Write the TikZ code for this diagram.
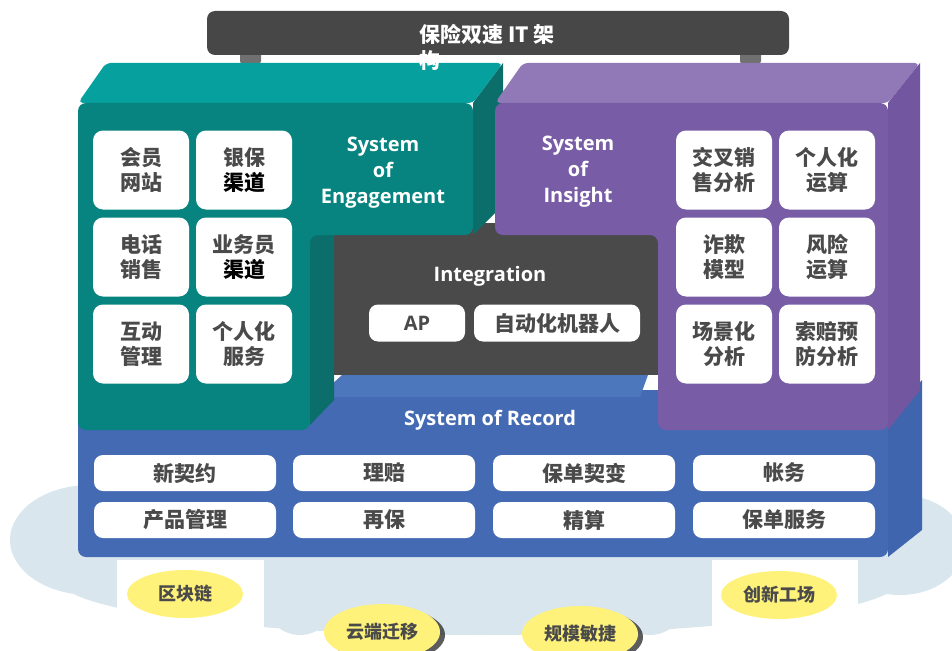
\documentclass[tikz,border=0pt]{standalone}
\usepackage{fontspec}
\setmainfont{Open Sans}
\newfontfamily\cjk{Noto Sans CJK SC}
\usetikzlibrary{shapes.geometric,shadows}

\definecolor{bargray}{HTML}{474747}
\definecolor{postgray}{HTML}{707070}
\definecolor{tealtop}{HTML}{06A09F}
\definecolor{tealfront}{HTML}{07847F}
\definecolor{tealside}{HTML}{0B6E6A}
\definecolor{purptop}{HTML}{9079B6}
\definecolor{purpfront}{HTML}{785DA6}
\definecolor{purpside}{HTML}{7356A0}
\definecolor{intgray}{HTML}{4A4A4A}
\definecolor{bluefront}{HTML}{436AB3}
\definecolor{bluetop}{HTML}{4C77BC}
\definecolor{blueside}{HTML}{3E65AD}
\definecolor{txtgray}{HTML}{4A4A4A}
\definecolor{lemon}{HTML}{FFF27A}
\definecolor{cloudblue}{HTML}{D9E6ED}

\begin{document}
\begin{tikzpicture}[x=1pt,y=-1pt,
    cell/.style={fill=white,rounded corners=10pt,minimum width=96pt,minimum height=79pt,
      inner sep=0pt,align=center,text=txtgray,font=\cjk\bfseries\fontsize{21}{25}\selectfont},
    bar cell/.style={cell,minimum width=182pt,minimum height=36pt,rounded corners=9pt},
    sys label/.style={text=white,align=center,font=\bfseries\fontsize{20}{26}\selectfont},
    bubble/.style={ellipse,fill=lemon,minimum width=116pt,minimum height=48pt,inner sep=0pt,
      text=txtgray,font=\cjk\bfseries\fontsize{18}{20}\selectfont}]
  \useasboundingbox (0,0) rectangle (952,650);
  \clip (0,0) rectangle (952,650);

  % cloud under the platform
  \fill[cloudblue] (90,540) ellipse (80 and 55) (112,512) circle (42)
    (900,545) ellipse (65 and 50) (480,580) ellipse (420 and 55)
    (300,600) circle (35) (650,600) circle (35);
  \fill[white] (117,560) rectangle (264,650);
  \fill[white] (712,560) rectangle (858,650);

  % posts under the title bar
  \fill[postgray, rounded corners=5pt] (240,48) rectangle (261,66);
  \fill[postgray, rounded corners=5pt] (740,48) rectangle (761,66);

  % System of Record
  \fill[blueside] (888,420) -- (922,380) -- (922,530) -- (888,557) -- cycle;
  \fill[bluefront, rounded corners=8pt] (78,390) rectangle (888,557);
  \fill[bluetop] (318,397) -- (342,375) -- (648,375) -- (640,397) -- cycle;

  % Integration
  \fill[intgray] (334,223) rectangle (658,375);

  % System of Engagement
  \fill[tealtop, rounded corners=5pt] (78,103) -- (106,63) -- (503,63) -- (473,103) -- cycle;
  \fill[tealside] (473,103) -- (503,63) -- (503,205) -- (473,235) -- cycle;
  \fill[tealside] (310,235) -- (334,235) -- (334,400) -- (310,425) -- cycle;
  \fill[tealfront, rounded corners=8pt] (78,103) -- (473,103) -- (473,235) -- (310,235)
    -- (310,430) -- (78,430) -- cycle;

  % System of Insight
  \fill[purptop, rounded corners=5pt] (495,103) -- (523,63) -- (920,63) -- (888,103) -- cycle;
  \fill[purpside] (888,103) -- (920,63) -- (920,390) -- (888,430) -- cycle;
  \fill[purpfront, rounded corners=8pt] (495,103) -- (888,103) -- (888,430) -- (658,430)
    -- (658,235) -- (495,235) -- cycle;

  % title bar
  \fill[bargray, rounded corners=8pt] (207,11) rectangle (789,55);
  \node[anchor=north west, inner sep=0pt, align=left, text=white,
    font=\cjk\bfseries\fontsize{21}{26}\selectfont] (title) at (419,24) {保险双速 IT 架\\构};

  % engagement channels
  \node[cell] (member) at (141,170) {会员\\网站};
  \node[cell] (bank) at (244,170) {银保\\\textcolor{black}{渠道}};
  \node[cell] (phone) at (141,257) {电话\\销售};
  \node[cell] (agent) at (244,257) {业务员\\\textcolor{black}{渠道}};
  \node[cell] (interact) at (141,344) {互动\\管理};
  \node[cell] (service) at (244,344) {个人化\\服务};
  \node[sys label] (soe) at (383,173) {System\\of\\Engagement};

  % insight analytics
  \node[sys label] (soi) at (578,172) {System\\of\\Insight};
  \node[cell] (cross) at (724,170) {交叉销\\售分析};
  \node[cell] (pcalc) at (827,170) {个人化\\运算};
  \node[cell] (fraud) at (724,257) {诈欺\\模型};
  \node[cell] (risk) at (827,257) {风险\\运算};
  \node[cell] (scene) at (724,344) {场景化\\分析};
  \node[cell] (claimprev) at (827,344) {索赔预\\防分析};

  % integration layer
  \node[sys label] (integ) at (490,276) {Integration};
  \node[bar cell, minimum width=96pt, minimum height=37pt, font=\bfseries\fontsize{20}{24}\selectfont]
    (ap) at (417,323) {AP};
  \node[bar cell, minimum width=166pt, minimum height=37pt] (robot) at (557,323) {自动化机器人};

  % core records
  \node[sys label] (sor) at (490,420) {System of Record};
  \node[bar cell] (newpol) at (185,473) {新契约};
  \node[bar cell] (claim) at (384,473) {理赔};
  \node[bar cell] (change) at (584,473) {保单契变};
  \node[bar cell] (account) at (784,473) {帐务};
  \node[bar cell] (product) at (185,520) {产品管理};
  \node[bar cell] (reins) at (384,520) {再保};
  \node[bar cell] (actuary) at (584,520) {精算};
  \node[bar cell] (polserv) at (784,520) {保单服务};

  % foundation bubbles
  \node[bubble] (chain) at (185,594) {区块链};
  \node[bubble] (lab) at (779,595) {创新工场};
  \node[bubble, minimum height=56pt, drop shadow={shadow xshift=5pt,shadow yshift=-3pt,fill=black!85,opacity=.75}]
    (cloudmig) at (382,632) {云端迁移};
  \node[bubble, minimum height=56pt, drop shadow={shadow xshift=5pt,shadow yshift=-3pt,fill=black!85,opacity=.75}]
    (agile) at (580,634) {规模敏捷};
\end{tikzpicture}
\end{document}
